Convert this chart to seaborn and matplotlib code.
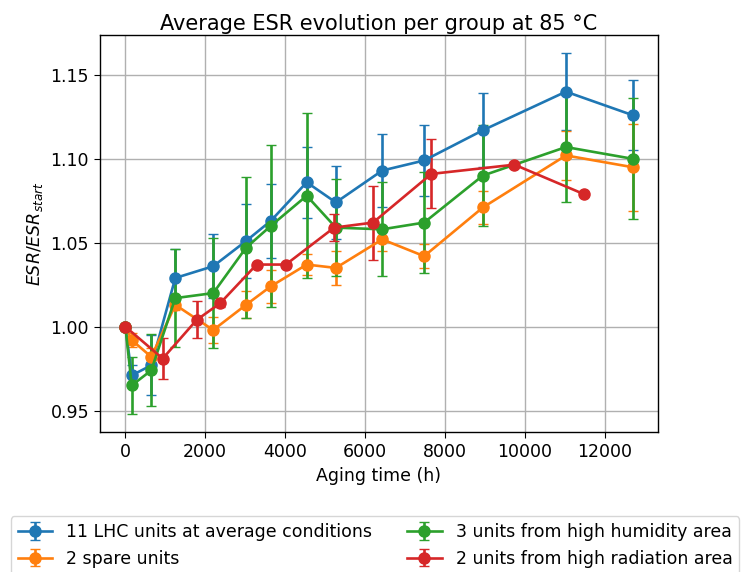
import matplotlib
matplotlib.use("Agg")
import matplotlib.pyplot as plt
import seaborn as sns

# Aging time (h) for the groups measured on the common schedule
hours = [0, 160, 650, 1250, 2200, 3020, 3640, 4540, 5270, 6430, 7480, 8950, 11030, 12700]
# Aging time (h) for the high radiation group
hours_rad = [0, 935, 1785, 2375, 3285, 4018, 5225, 6200, 7660, 9742, 11475]

labels = [
    "11 LHC units at average conditions",
    "2 spare units",
    "3 units from high humidity area",
    "2 units from high radiation area",
]

esr_lhc = [1.000, 0.971, 0.977, 1.029, 1.036, 1.051, 1.063, 1.086, 1.074, 1.093, 1.099, 1.117, 1.140, 1.126]
err_lhc = [0.0, 0.006, 0.018, 0.017, 0.019, 0.022, 0.022, 0.021, 0.022, 0.022, 0.021, 0.022, 0.023, 0.021]

esr_spare = [1.000, 0.992, 0.982, 1.013, 0.998, 1.013, 1.024, 1.037, 1.035, 1.052, 1.042, 1.071, 1.102, 1.095]
err_spare = [0.0, 0.004, 0.005, 0.003, 0.008, 0.008, 0.010, 0.006, 0.010, 0.007, 0.007, 0.010, 0.0145, 0.026]

esr_hum = [1.000, 0.965, 0.974, 1.017, 1.020, 1.047, 1.060, 1.078, 1.059, 1.058, 1.062, 1.090, 1.107, 1.100]
err_hum = [0.0, 0.017, 0.0215, 0.029, 0.033, 0.042, 0.048, 0.049, 0.029, 0.028, 0.030, 0.030, 0.033, 0.036]

esr_rad = [1.000, 0.981, 1.004, 1.014, 1.037, 1.037, 1.059, 1.062, 1.091, 1.0965, 1.079]
err_rad = [0.0, 0.012, 0.011, 0.002, 0.0, 0.0, 0.008, 0.022, 0.0205, 0.0, 0.0]

colors = sns.color_palette("tab10", 4)

plt.rcParams.update({
    "font.size": 12.5,
    "axes.titlesize": 15,
    "lines.linewidth": 1.9,
    "axes.linewidth": 1.0,
    "xtick.major.size": 4.4,
    "ytick.major.size": 4.4,
    "grid.linewidth": 1.0,
})

fig = plt.figure(figsize=(7.42, 5.72), dpi=100)
ax = fig.add_axes([100 / 742, 1 - 432 / 572, 558 / 742, 397 / 572])

series = [
    (hours, esr_lhc, err_lhc),
    (hours, esr_spare, err_spare),
    (hours, esr_hum, err_hum),
    (hours_rad, esr_rad, err_rad),
]
for (x, y, e), lab, col in zip(series, labels, colors):
    ax.errorbar(x, y, yerr=e, fmt="-o", color=col, markersize=8,
                capsize=3.75, label=lab)

ax.set_title("Average ESR evolution per group at 85 °C", pad=3.5)
ax.set_xlabel("Aging time (h)")
ax.set_ylabel("$ESR/ESR_{start}$")
ax.set_yticks([0.95, 1.00, 1.05, 1.10, 1.15])
ax.grid(True)

ax.legend(loc="upper center", bbox_to_anchor=(0.493, -0.19), ncol=2)

fig.savefig("out.png", dpi=100)
